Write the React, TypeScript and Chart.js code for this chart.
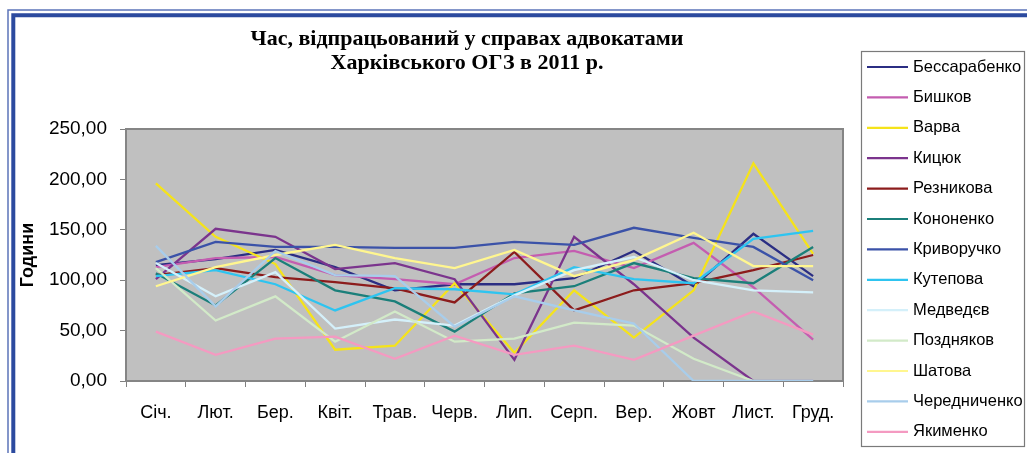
import React, { useEffect, useRef } from 'react';
import { Chart, registerables } from 'chart.js';

Chart.register(...registerables);

const months = ['Січ.', 'Лют.', 'Бер.', 'Квіт.', 'Трав.', 'Черв.', 'Лип.', 'Серп.', 'Вер.', 'Жовт', 'Лист.', 'Груд.'];

const seriesNames = [
  'Бессарабенко', 'Бишков', 'Варва', 'Кицюк', 'Резникова', 'Кононенко', 'Криворучко',
  'Кутепова', 'Медведєв', 'Поздняков', 'Шатова', 'Чередниченко', 'Якименко',
];

const seriesColors = [
  '#2B2E83', '#C45DB0', '#F5E31A', '#7B348D', '#8C1C1C', '#1B7F7A', '#3B52A8',
  '#2EC4F0', '#D4F0FA', '#D2EAC8', '#FFF68F', '#A8CDEB', '#F49AC1',
];

const bessarabenko = [115, 121, 130, 113, 90, 96, 96, 102, 129, 94, 146, 104];
const bishkov = [113, 122, 123, 105, 101, 96, 122, 129, 112, 137, 93, 41];
const varva = [196, 143, 116, 31, 35, 97, 28, 90, 43, 90, 216, 126];
const kytsiuk = [101, 151, 143, 111, 117, 101, 21, 143, 96, 43, 0, 0];
const reznykova = [105, 112, 103, 98, 92, 78, 128, 70, 90, 97, 110, 125];
const kononenko = [107, 75, 122, 90, 79, 49, 87, 94, 117, 102, 97, 133];
const kryvoruchko = [118, 138, 133, 133, 132, 132, 138, 135, 152, 142, 133, 100];
const kutepova = [104, 110, 96, 70, 92, 91, 86, 113, 101, 97, 141, 149];
const medvediev = [117, 84, 108, 52, 61, 55, 85, 110, 123, 100, 90, 88];
const pozdniakov = [112, 60, 84, 39, 69, 39, 42, 58, 55, 22, 0, 0];
const shatova = [94, 113, 125, 135, 122, 112, 130, 104, 120, 147, 114, 114];
const cherednychenko = [134, 74, 129, 105, 104, 54, 84, 70, 57, 0, 0, 0];
const yakymenko = [49, 26, 42, 44, 22, 45, 26, 35, 21, 45, 69, 46];

const seriesValues = [
  bessarabenko, bishkov, varva, kytsiuk, reznykova, kononenko, kryvoruchko,
  kutepova, medvediev, pozdniakov, shatova, cherednychenko, yakymenko,
];

const yTicks = [0, 50, 100, 150, 200, 250];
const titleLines = ['Час, відпрацьований у справах адвокатами', 'Харківського ОГЗ в 2011 р.'];
const yTitle = 'Години';

const decorPlugin = {
  id: 'decor',
  afterLayout(chart: any) {
    const tb = chart.titleBlock;
    if (tb) {
      const cx = 467;
      tb.left = cx - 320;
      tb.right = cx + 320;
      tb.width = 640;
    }
  },
  beforeDraw(chart: any) {
    const ctx = chart.ctx;
    const { left, top, right, bottom } = chart.chartArea;
    const W = chart.width;
    const H = chart.height;
    ctx.save();
    ctx.fillStyle = '#ffffff';
    ctx.fillRect(0, 0, W, H);
    // outer double frame
    ctx.strokeStyle = '#5C74B9';
    ctx.lineWidth = 1.5;
    ctx.beginPath();
    ctx.moveTo(8, H + 5);
    ctx.lineTo(8, 10);
    ctx.lineTo(W + 5, 10);
    ctx.stroke();
    ctx.strokeStyle = '#2C4A9F';
    ctx.lineWidth = 4;
    ctx.beginPath();
    ctx.moveTo(13.3, H + 5);
    ctx.lineTo(13.3, 15.3);
    ctx.lineTo(W + 5, 15.3);
    ctx.stroke();
    // plot area
    ctx.fillStyle = '#C0C0C0';
    ctx.fillRect(left, top, right - left, bottom - top);
    ctx.restore();
  },
  beforeDatasetsDraw(chart: any) {
    const ctx = chart.ctx;
    const { left, top, right, bottom } = chart.chartArea;
    ctx.save();
    ctx.strokeStyle = '#858585';
    ctx.lineWidth = 2;
    ctx.strokeRect(left, top, right - left, bottom - top);
    ctx.restore();
  },
  afterDraw(chart: any) {
    const ctx = chart.ctx;
    ctx.save();
    // legend box
    const bx = 861.5, by = 51.5, bw = 163, bh = 395;
    ctx.fillStyle = '#ffffff';
    ctx.fillRect(bx, by, bw, bh);
    ctx.strokeStyle = '#7A7A7A';
    ctx.lineWidth = 1.2;
    ctx.strokeRect(bx, by, bw, bh);
    ctx.font = "16.5px 'Liberation Sans', Arial, sans-serif";
    ctx.textBaseline = 'middle';
    ctx.textAlign = 'left';
    chart.data.datasets.forEach((ds: any, i: number) => {
      const y = 67 + i * 30.4;
      ctx.strokeStyle = ds.borderColor;
      ctx.lineWidth = 2.2;
      ctx.beginPath();
      ctx.moveTo(867, y);
      ctx.lineTo(908, y);
      ctx.stroke();
      ctx.fillStyle = '#000000';
      ctx.fillText(ds.label, 913, y);
    });
    ctx.restore();
  },
};

export default function App() {
  const canvasRef = useRef<HTMLCanvasElement | null>(null);

  useEffect(() => {
    const canvas = canvasRef.current;
    if (!canvas) return;
    Chart.defaults.font.family = "'Liberation Sans', Arial, sans-serif";
    const datasets = seriesNames.map((name, i) => ({
      label: name,
      data: seriesValues[i],
      borderColor: seriesColors[i],
      backgroundColor: seriesColors[i],
      borderWidth: 2.3,
      pointRadius: 0,
      pointHoverRadius: 0,
      tension: 0,
      fill: false,
      order: seriesNames.length - i,
    }));
    const chart = new Chart(canvas, {
      type: 'line',
      data: { labels: months, datasets },
      plugins: [decorPlugin],
      options: {
        responsive: false,
        animation: false,
        events: [],
        layout: { padding: { left: 0, right: 184, top: 0, bottom: 0 } },
        plugins: {
          legend: { display: false },
          tooltip: { enabled: false },
          title: {
            display: true,
            text: titleLines,
            color: '#000000',
            font: { family: "'Liberation Serif', 'Times New Roman', serif", size: 22, weight: 'bold', lineHeight: 1.1 },
            padding: { top: 27, bottom: 53.6 },
          },
        },
        scales: {
          x: {
            type: 'category',
            offset: true,
            grid: {
              display: true,
              drawOnChartArea: false,
              drawTicks: true,
              tickLength: 6,
              offset: true,
              color: '#808080',
              lineWidth: 1,
            },
            border: { display: false },
            ticks: {
              color: '#000000',
              font: { size: 18 },
              padding: 15,
              autoSkip: false,
              maxRotation: 0,
              minRotation: 0,
            },
            afterFit: (s: any) => {
              s.height = 72;
            },
          },
          y: {
            min: 0,
            max: 250,
            afterBuildTicks: (s: any) => {
              s.ticks = yTicks.map((v) => ({ value: v }));
            },
            grid: {
              display: true,
              drawOnChartArea: false,
              drawTicks: true,
              tickLength: 6,
              color: '#808080',
              lineWidth: 1,
            },
            border: { display: false },
            ticks: {
              color: '#000000',
              font: { size: 19 },
              padding: 13,
              callback: (v: any) => Number(v).toFixed(2).replace('.', ','),
            },
            title: {
              display: true,
              text: yTitle,
              color: '#000000',
              font: { size: 18, weight: 'bold' },
              padding: { top: 17, bottom: 0 },
            },
            afterFit: (s: any) => {
              s.width = 126;
            },
          },
        },
      },
    });
    return () => {
      chart.destroy();
    };
  }, []);

  return (
    <div style={{ position: 'absolute', left: 0, top: 0, width: 1027, height: 453 }}>
      <canvas ref={canvasRef} width={1027} height={453} style={{ display: 'block' }} />
    </div>
  );
}
